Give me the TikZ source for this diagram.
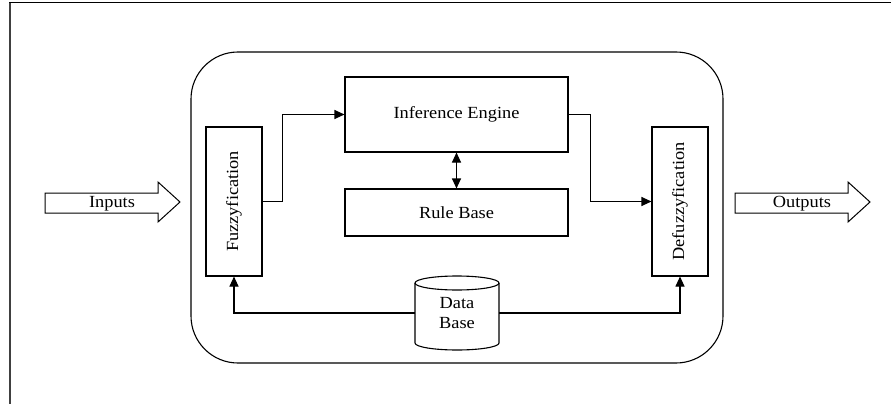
\documentclass[tikz,border=0pt]{standalone}
\usepackage{fontspec}
\setmainfont{Liberation Serif}[FakeStretch=1.08]
\usepackage{graphicx}
\usetikzlibrary{arrows.meta}

\tikzset{
  wire/.style={line width=1.1pt, line join=miter},
  flow/.style={wire, -{Triangle[length=10pt,width=9pt]}},
  twoway/.style={wire, {Triangle[length=10pt,width=9pt]}-{Triangle[length=10pt,width=9pt]}},
  block/.style={draw, line width=1.1pt, rectangle, inner sep=0pt, align=center,
                font=\fontsize{17}{20}\selectfont},
  label/.style={inner sep=0pt, align=center, font=\fontsize{17}{20}\selectfont},
}

\begin{document}
\begin{tikzpicture}[x=1pt, y=-1pt]
  \useasboundingbox (0,0) rectangle (891,404);

  % page frame (top and left edges only)
  \draw[line width=1pt] (9,3) -- (891,3);
  \draw[line width=2pt, black!75] (10,3) -- (10,404);

  % system boundary
  \draw[line width=1.1pt, rounded corners=47pt] (191,52) rectangle (723,363);

  % processing blocks
  \node[block, minimum width=223pt, minimum height=75pt] (ie) at (456.5,114.5) {Inference Engine};
  \node[block, minimum width=223pt, minimum height=47pt] (rb) at (456.5,212.5) {Rule Base};
  \node[block, minimum width=56pt, minimum height=149pt] (fuzz) at (234,201.5)
       {\rotatebox{90}{Fuzzyfication}};
  \node[block, minimum width=56pt, minimum height=149pt] (defuzz) at (680,201.5)
       {\rotatebox{90}{Defuzzyfication}};

  % data base cylinder
  \node[label, minimum width=84pt, minimum height=60pt] (db) at (457,313) {Data\\Base};
  \draw[wire] (415,283) -- (415,343) arc[start angle=180, end angle=360, x radius=42pt, y radius=7pt]
              -- (499,283);
  \draw[wire] (457,283) ellipse[x radius=42pt, y radius=7pt];

  % block arrows for inputs and outputs
  \node[label] (in) at (112,203.5) {Inputs};
  \draw[line width=1pt, line join=miter]
    (45,193) -- (158,193) -- (158,182) -- (180,202) -- (158,222) -- (158,213) -- (45,213) -- cycle;
  \node[label] (out) at (802,203.5) {Outputs};
  \draw[line width=1pt, line join=miter]
    (735,193) -- (848,193) -- (848,182) -- (870,202) -- (848,222) -- (848,213) -- (735,213) -- cycle;

  % connectors
  \draw[flow] (fuzz.east) -- ++(20,0) |- (ie.west);
  \draw[flow] (ie.east) -- ++(22,0) |- (defuzz.west);
  \draw[twoway] (ie.south) -- (rb.north);
  \draw[flow] (db.west) -| (fuzz.south);
  \draw[flow] (db.east) -| (defuzz.south);
\end{tikzpicture}
\end{document}
